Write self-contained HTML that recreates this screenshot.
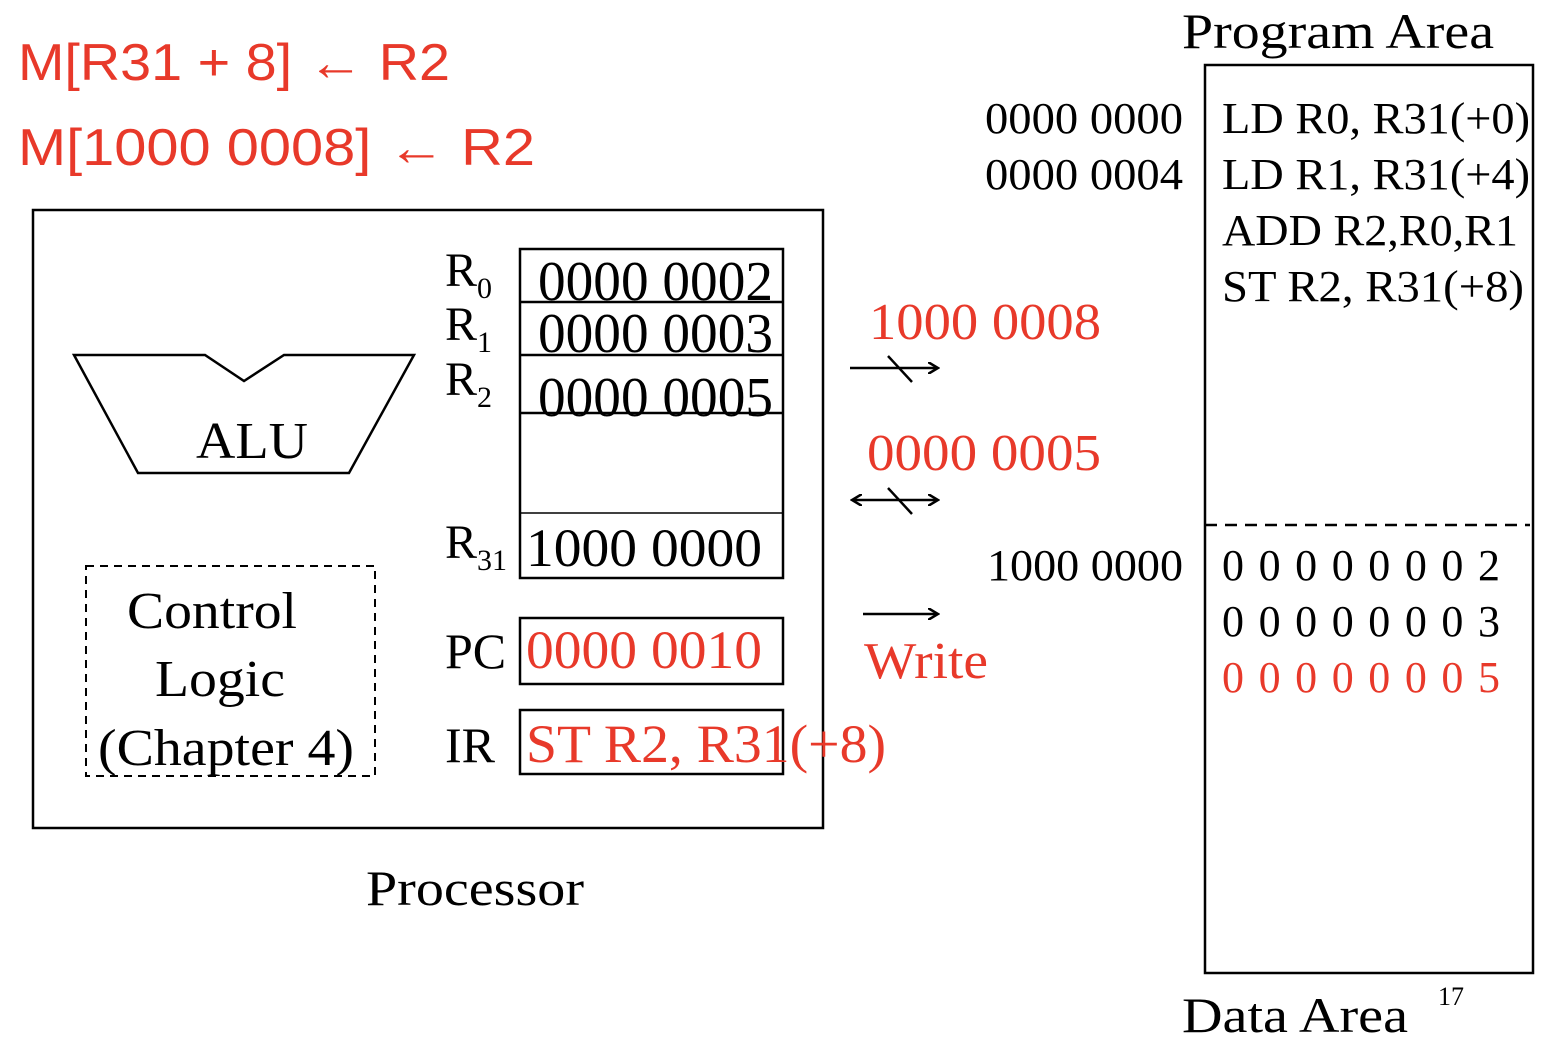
<!DOCTYPE html>
<html><head><meta charset="utf-8"><style>
html,body{margin:0;padding:0;background:#fff;width:1554px;height:1046px;overflow:hidden}
svg{display:block}
.s{font-family:"Liberation Serif",serif}
.r{fill:#e8392a}
</style></head><body>
<svg width="1554" height="1046" viewBox="0 0 1554 1046" xmlns="http://www.w3.org/2000/svg">
<defs>
<marker id="ah" markerWidth="12" markerHeight="12" refX="10" refY="6" orient="auto" markerUnits="userSpaceOnUse">
<path d="M0,0 L10,6 L0,12" fill="none" stroke="#000" stroke-width="2.5"/></marker>
<marker id="ahs" markerWidth="12" markerHeight="12" refX="2" refY="6" orient="auto" markerUnits="userSpaceOnUse">
<path d="M12,0 L2,6 L12,12" fill="none" stroke="#000" stroke-width="2.5"/></marker>
</defs>
<g font-family="'Liberation Sans','DejaVu Sans',sans-serif" fill="#e8392a" font-size="52">
<text x="18" y="80" textLength="432" lengthAdjust="spacingAndGlyphs">M[R31 + 8] ← R2</text>
<text x="18" y="165" textLength="517" lengthAdjust="spacingAndGlyphs">M[1000 0008] ← R2</text>
</g>
<g fill="none" stroke="#000" stroke-width="2.5">
<rect x="33" y="210" width="790" height="618"/>
<rect x="520" y="249" width="263" height="329"/>
<line x1="520" y1="302" x2="783" y2="302"/>
<line x1="520" y1="355" x2="783" y2="355"/>
<line x1="520" y1="413" x2="783" y2="413"/>
<line x1="520" y1="513" x2="783" y2="513" stroke-width="1.5"/>
<rect x="520" y="618" width="263" height="66"/>
<rect x="520" y="710" width="263" height="64"/>
<polygon points="74,355 205,355 244,381 284,355 414,355 349,473 138,473"/>
<rect x="86" y="566" width="289" height="210" stroke-dasharray="8,6" stroke-width="2"/>
<rect x="1205" y="65" width="328" height="908"/>
<line x1="1205" y1="525" x2="1530" y2="525" stroke-dasharray="12,8"/>
<line x1="850" y1="368" x2="938" y2="368" marker-end="url(#ah)"/>
<line x1="888" y1="356" x2="912" y2="382"/>
<line x1="852" y1="500" x2="938" y2="500" marker-end="url(#ah)" marker-start="url(#ahs)"/>
<line x1="888" y1="488" x2="912" y2="514"/>
<line x1="863" y1="614" x2="938" y2="614" marker-end="url(#ah)"/>
</g>
<g class="s" font-size="48">
<text x="1182" y="48" font-size="50" textLength="312" lengthAdjust="spacingAndGlyphs">Program Area</text>
<text x="985" y="133" font-size="44" textLength="198" lengthAdjust="spacingAndGlyphs">0000 0000</text>
<text x="985" y="189" font-size="44" textLength="198" lengthAdjust="spacingAndGlyphs">0000 0004</text>
<text x="1222" y="133" font-size="44" textLength="308" lengthAdjust="spacingAndGlyphs">LD R0, R31(+0)</text>
<text x="1222" y="189" font-size="44" textLength="308" lengthAdjust="spacingAndGlyphs">LD R1, R31(+4)</text>
<text x="1222" y="245" font-size="44" textLength="296" lengthAdjust="spacingAndGlyphs">ADD R2,R0,R1</text>
<text x="1222" y="301" font-size="44" textLength="302" lengthAdjust="spacingAndGlyphs">ST R2, R31(+8)</text>
<text x="987" y="580" font-size="44" textLength="196" lengthAdjust="spacingAndGlyphs">1000 0000</text>
<text x="1222" y="580" font-size="44" textLength="278" lengthAdjust="spacing">0 0 0 0  0 0 0 2</text>
<text x="1222" y="636" font-size="44" textLength="278" lengthAdjust="spacing">0 0 0 0  0 0 0 3</text>
<text x="1222" y="692" font-size="44" textLength="278" lengthAdjust="spacing" class="r">0 0 0 0  0 0 0 5</text>
<text x="1182" y="1032" font-size="50" textLength="226" lengthAdjust="spacingAndGlyphs">Data Area</text>
<text x="1438" y="1005" font-size="26">17</text>
<text x="366" y="905" font-size="50" textLength="218" lengthAdjust="spacingAndGlyphs">Processor</text>
<text x="869" y="339" font-size="52" class="r" textLength="232" lengthAdjust="spacingAndGlyphs">1000 0008</text>
<text x="867" y="470" font-size="52" class="r" textLength="234" lengthAdjust="spacingAndGlyphs">0000 0005</text>
<text x="864" y="678" font-size="52" class="r" textLength="124" lengthAdjust="spacingAndGlyphs">Write</text>
<text x="196" y="458" font-size="52" textLength="112" lengthAdjust="spacingAndGlyphs">ALU</text>
<text x="127" y="628" font-size="52" textLength="170" lengthAdjust="spacingAndGlyphs">Control</text>
<text x="155" y="696" font-size="52" textLength="130" lengthAdjust="spacingAndGlyphs">Logic</text>
<text x="98" y="765" font-size="52" textLength="256" lengthAdjust="spacingAndGlyphs">(Chapter 4)</text>
<text x="445" y="286">R<tspan font-size="30" dy="12">0</tspan></text>
<text x="445" y="340">R<tspan font-size="30" dy="12">1</tspan></text>
<text x="445" y="395">R<tspan font-size="30" dy="12">2</tspan></text>
<text x="445" y="558">R<tspan font-size="30" dy="12">31</tspan></text>
<text x="538" y="300" font-size="56" textLength="235" lengthAdjust="spacingAndGlyphs">0000 0002</text>
<text x="538" y="352" font-size="56" textLength="235" lengthAdjust="spacingAndGlyphs">0000 0003</text>
<text x="538" y="416" font-size="56" textLength="235" lengthAdjust="spacingAndGlyphs">0000 0005</text>
<text x="526" y="566" font-size="54" textLength="236" lengthAdjust="spacingAndGlyphs">1000 0000</text>
<text x="445" y="668" font-size="50">PC</text>
<text x="526" y="668" font-size="54" class="r" textLength="236" lengthAdjust="spacingAndGlyphs">0000 0010</text>
<text x="445" y="762" font-size="50">IR</text>
<text x="526" y="762" font-size="54" class="r" textLength="360" lengthAdjust="spacingAndGlyphs">ST R2, R31(+8)</text>
</g>
</svg>
</body></html>
